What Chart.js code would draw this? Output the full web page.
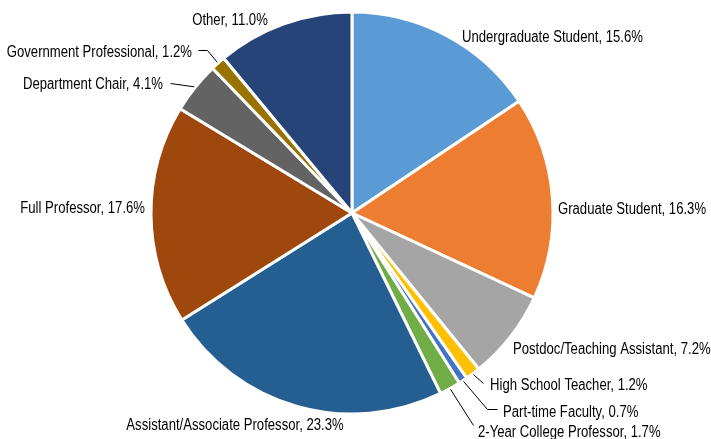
<!DOCTYPE html>
<html>
<head>
<meta charset="utf-8">
<script src="https://cdn.jsdelivr.net/npm/chart.js@4.4.1/dist/chart.umd.min.js"></script>
<style>
html,body{margin:0;padding:0;background:#fff;}
#wrap{width:711px;height:439px;position:relative;}
</style>
</head>
<body>
<div id="wrap"><canvas id="c" width="711" height="439"></canvas></div>
<script>
const categories = [
  "Undergraduate Student","Graduate Student","Postdoc/Teaching Assistant",
  "High School Teacher","Part-time Faculty","2-Year College Professor",
  "Assistant/Associate Professor","Full Professor","Department Chair",
  "Government Professional","Other"
];
const shares = [15.6, 16.3, 7.2, 1.2, 0.7, 1.7, 23.3, 17.6, 4.1, 1.2, 11.0];
const colors = ["#5B9BD5","#ED7D31","#A5A5A5","#FFC000","#4472C4","#70AD47",
                "#255E91","#9E480E","#636363","#997300","#264478"];

// label placement (style): offset from pie centre, alignment, leader bend points
const labelLayout = [
  {dx:110, dy:-177, align:"left"},
  {dx:206, dy:-5, align:"left"},
  {dx:161, dy:135, align:"left"},
  {dx:138, dy:171, align:"left", leader:[[131,170]]},
  {dx:151, dy:198, align:"left", leader:[[135,196],[145,196]]},
  {dx:126, dy:218, align:"left", leader:[[121,212]]},
  {dx:-117, dy:211, align:"center"},
  {dx:-207, dy:-6, align:"right"},
  {dx:-189, dy:-130, align:"right", leader:[[-182,-130]]},
  {dx:-160, dy:-162, align:"right", leader:[[-145,-163],[-154,-163]]},
  {dx:-122, dy:-194, align:"center"}
];
const NARROW = 0.82;

const labelPlugin = {
  id: "outLabels",
  afterDatasetsDraw(chart) {
    const ctx = chart.ctx;
    const meta = chart.getDatasetMeta(0);
    ctx.save();
    ctx.fillStyle = "#000";
    ctx.strokeStyle = "#000";
    ctx.lineWidth = 1;
    meta.data.forEach((arc, i) => {
      const p = arc.getProps(["x","y","startAngle","endAngle","outerRadius"], true);
      const L = labelLayout[i];
      if (L.leader) {
        const mid = (p.startAngle + p.endAngle) / 2;
        const r = p.outerRadius + 1;
        ctx.beginPath();
        ctx.moveTo(p.x + Math.cos(mid) * r, p.y + Math.sin(mid) * r);
        L.leader.forEach(pt => ctx.lineTo(p.x + pt[0] + 0.5, p.y + pt[1] + 0.5));
        ctx.stroke();
      }
      const txt = categories[i] + ", " + shares[i].toFixed(1) + "%";
      const tx = p.x + L.dx, ty = p.y + L.dy + 5.7;
      ctx.save();
      ctx.translate(tx, ty);
      ctx.scale(NARROW, 1);
      ctx.font = '16px "Liberation Sans", Arial, sans-serif';
      ctx.textAlign = L.align;
      ctx.textBaseline = "alphabetic";
      ctx.fillText(txt, 0, 0);
      ctx.restore();
    });
    ctx.restore();
  }
};

new Chart(document.getElementById("c"), {
  type: "pie",
  data: {
    labels: categories,
    datasets: [{
      data: shares,
      backgroundColor: colors,
      borderColor: "#ffffff",
      borderWidth: 3,
      hoverOffset: 0
    }]
  },
  options: {
    responsive: false,
    animation: false,
    radius: 201,
    layout: { padding: { left: 0, right: 7, top: 0, bottom: 13 } },
    plugins: { legend: { display: false }, tooltip: { enabled: false } }
  },
  plugins: [labelPlugin]
});
</script>
</body>
</html>
